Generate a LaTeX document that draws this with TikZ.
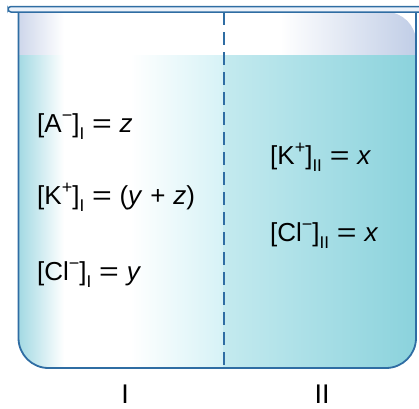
\documentclass[tikz,border=0pt]{standalone}
\usepackage{fontspec}
\usepackage{graphicx}
\setmainfont{Liberation Sans}
\definecolor{outl}{RGB}{47,109,163}
\definecolor{liqR}{RGB}{138,210,220}
\definecolor{liqM}{RGB}{196,234,239}
\definecolor{liqL}{RGB}{214,242,246}
\definecolor{liqW}{RGB}{160,216,226}
\definecolor{airR}{RGB}{192,205,230}
\definecolor{airL}{RGB}{204,213,234}
\definecolor{rimfill}{RGB}{236,242,250}
\newcommand{\myeq}{\hspace{0.3em}\scalebox{1.3}[1]{=}\hspace{0.3em}}
\newcommand{\myplus}{\hspace{0.3em}+\hspace{0.3em}}
\newcommand{\mysub}[1]{\raisebox{-0.28em}{\fontsize{17}{20}\selectfont #1}}
\newcommand{\mysup}[1]{\raisebox{0.42em}{\fontsize{18}{20}\selectfont #1}}
\begin{document}
\begin{tikzpicture}[x=1pt,y=-1pt,
  lbl/.style={anchor=base west, font=\fontsize{26}{30}\selectfont, inner sep=0pt},
  numlbl/.style={anchor=base, font=\fontsize{27}{30}\selectfont, inner sep=0pt},
  wall/.style={draw=outl, line width=1.8pt}]
\useasboundingbox (0,0) rectangle (419,408);
\begin{scope}
  \clip (18.5,12) {[rounded corners=30pt] -- (18.5,368) -- (416,368) -- (416,12)} -- cycle;
  % air above liquid
  \shade[left color=airL, right color=white] (17,11) rectangle (64,55);
  \fill[white] (63.5,11) rectangle (280.5,55);
  \shade[left color=white, right color=airR] (280,11) rectangle (418,55);
  % liquid
  \shade[left color=liqW, right color=white] (17,55) rectangle (64,370);
  \fill[white] (63.5,55) rectangle (130.5,370);
  \shade[left color=white, right color=liqL] (130,55) rectangle (224,370);
  \shade[left color=liqM, right color=liqR] (223.5,55) rectangle (418,370);
\end{scope}
% divider
\draw[outl, line width=1.8pt, dash pattern=on 13pt off 7pt] (224,12) -- (224,368);
% beaker walls
\draw[wall] (18.5,12) {[rounded corners=30pt] -- (18.5,368) -- (416,368) -- (416,12)};
% rim
\draw[draw=outl, line width=1.5pt, fill=rimfill, rounded corners=3pt] (8,6.5) rectangle (430,12);
% labels
\node[lbl] (a1) at (37,132) {[A\mysup{−}]\mysub{I}\myeq\textit{z}};
\node[lbl] (k1) at (37,204) {[K\mysup{+}]\mysub{I}\myeq(\textit{y}\myplus\textit{z})};
\node[lbl] (c1) at (37,280) {[Cl\mysup{−}]\mysub{I}\myeq\textit{y}};
\node[lbl] (k2) at (270,164) {[K\mysup{+}]\mysub{II}\myeq\textit{x}};
\node[lbl] (c2) at (270,241) {[Cl\mysup{−}]\mysub{II}\myeq\textit{x}};
\node[numlbl] (r1) at (125,403) {I};
\node[numlbl] (r2) at (322,403) {II};
\end{tikzpicture}
\end{document}
